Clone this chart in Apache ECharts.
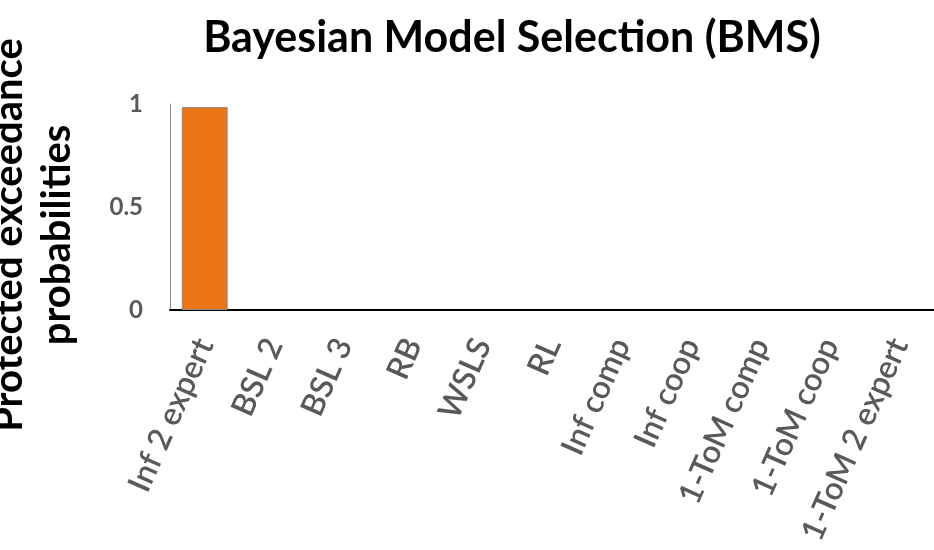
<!DOCTYPE html>
<html>
<head>
<meta charset="utf-8">
<script src="https://cdn.jsdelivr.net/npm/echarts@6/dist/echarts.min.js"></script>
<style>
  html, body { margin: 0; padding: 0; background: #fff; }
  #main { width: 934px; height: 550px; }
</style>
</head>
<body>
<div id="main"></div>
<script>
var chartDom = document.getElementById('main');
var myChart = echarts.init(chartDom);
var option;

// models and their protected exceedance probabilities
const models = ['Inf 2 expert', 'BSL 2', 'BSL 3', 'RB', 'WSLS', 'RL',
  'Inf comp', 'Inf coop', '1-ToM comp', '1-ToM coop', '1-ToM 2 expert'];
const pxp = [0.985, 0, 0, 0, 0, 0, 0, 0, 0, 0, 0];
const yTicks = [0, 0.5, 1];

// zero bars get no outline so nothing shows on the axis
const barData = pxp.map(function (v) {
  return { value: v, itemStyle: v > 0 ? {} : { borderWidth: 0 } };
});

option = {
  animation: false,
  textStyle: { fontFamily: 'Lato' },
  title: {
    text: 'Bayesian Model Selection (BMS)',
    left: 507,
    textAlign: 'center',
    top: 12,
    textStyle: { fontFamily: 'Lato', fontWeight: 'bold', fontSize: 43, color: '#000' }
  },
  graphic: [{
    type: 'text',
    x: 33,
    y: 235,
    rotation: Math.PI / 2,
    style: {
      text: 'Protected exceedance\nprobabilities',
      fontFamily: 'Lato',
      fontWeight: 'bold',
      fontSize: 40,
      lineHeight: 48,
      fill: '#000',
      align: 'center',
      verticalAlign: 'middle'
    }
  }],
  grid: { left: 170, right: 0, top: 104, bottom: 240, outerBoundsMode: 'none', containLabel: false },
  xAxis: {
    type: 'category',
    data: models,
    axisLine: { lineStyle: { color: '#000', width: 2 } },
    axisTick: { show: false },
    axisLabel: {
      rotate: 66,
      interval: 0,
      margin: 30,
      fontSize: 32,
      fontWeight: 600,
      color: '#595959'
    }
  },
  yAxis: {
    type: 'value',
    min: 0,
    max: 1,
    interval: 0.5,
    axisLine: { show: true, lineStyle: { color: '#888', width: 1 } },
    axisTick: { show: false },
    splitLine: { show: false },
    axisLabel: {
      margin: 27,
      fontSize: 24,
      fontWeight: 'bold',
      color: '#595959',
      formatter: function (v) { return yTicks.indexOf(v) >= 0 ? String(v) : ''; }
    }
  },
  series: [{
    type: 'bar',
    data: barData,
    barWidth: '66%',
    itemStyle: { color: '#EB7514', borderColor: '#8a8a8a', borderWidth: 1 }
  }]
};

option && myChart.setOption(option);
</script>
</body>
</html>
